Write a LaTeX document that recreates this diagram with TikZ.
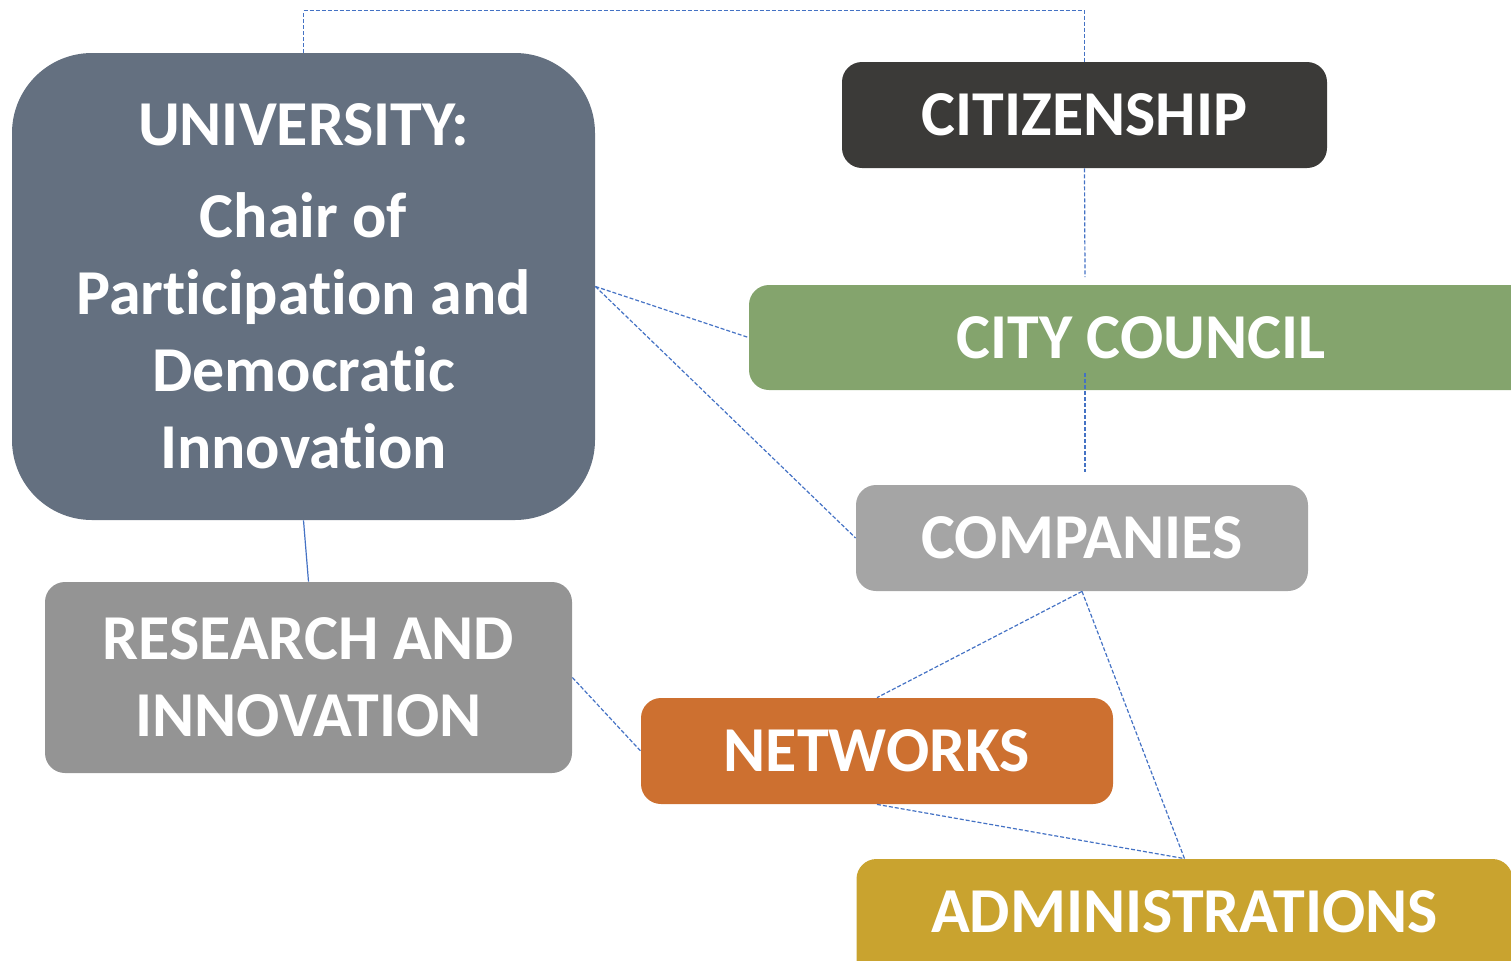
\documentclass[tikz,border=0pt]{standalone}
\usepackage{fontspec}
\setmainfont{Carlito}[RawFeature={-liga}]
\usepackage{tikz}
\definecolor{unigray}{HTML}{647080}
\definecolor{citdark}{HTML}{3B3A38}
\definecolor{citygreen}{HTML}{84A46D}
\definecolor{compgray}{HTML}{A5A5A5}
\definecolor{resgray}{HTML}{949494}
\definecolor{netorange}{HTML}{CD7030}
\definecolor{admgold}{HTML}{C9A32F}
\definecolor{linkblue}{HTML}{4472C4}
\tikzset{
  box/.style={rectangle, rounded corners=10pt, text=white, align=center,
    font=\fontsize{32}{38.5}\selectfont\bfseries, inner sep=0pt},
  link/.style={draw=linkblue, line width=0.6pt, dash pattern=on 2pt off 1pt},
}
\begin{document}
\begin{tikzpicture}[x=0.5pt, y=-0.5pt]
        \clip (0, 0) rectangle (1511, 960);
        \node[box, fill=unigray, rounded corners=40pt, minimum width=291.5pt, minimum height=233.5pt]
          (univ) at (303.5, 286.5) {UNIVERSITY:\\[7.5pt] Chair of\\ Participation and\\ Democratic\\ Innovation};
        \node[box, fill=citdark, minimum width=242.5pt, minimum height=53pt] (citizen) at (1084.5, 115) {CITIZENSHIP};
        \node[box, fill=citygreen, minimum width=392pt, minimum height=52.5pt] (council) at (1141, 337.5) {CITY COUNCIL};
        \node[box, fill=compgray, minimum width=226pt, minimum height=53pt] (companies) at (1082, 538) {COMPANIES};
        \node[box, fill=resgray, minimum width=263.5pt, minimum height=95.5pt] (research) at (308.5, 677.5) {RESEARCH AND\\ INNOVATION};
        \node[box, fill=netorange, minimum width=236pt, minimum height=53pt] (networks) at (877, 751) {NETWORKS};
        \node[box, fill=admgold, minimum width=328pt, minimum height=60pt, text depth=7pt] (admin) at (1184.5, 919) {ADMINISTRATIONS};
        \coordinate (cit end) at (1085, 277);
        \coordinate (council top) at (1085, 373);
        \coordinate (council end) at (1085, 472);
        \draw[link] (univ.north) -- ++(0, -42) -| (citizen.north);
        \draw[link] (citizen.south) -- (cit end);
        \draw[link] (council top) -- (council end);
        \foreach \to in {council.west, companies.west}
        \draw[link] (univ.east) -- (\to);
        \foreach \to in {networks.north, admin.north}
        \draw[link] (companies.south) -- (\to);
        \draw[link] (networks.south) -- (admin.north);
        \draw[link] (research.east) -- (networks.west);
        \draw[draw=linkblue, line width=0.6pt] (univ.south) -- (research.north);
      \end{tikzpicture}
\end{document}
